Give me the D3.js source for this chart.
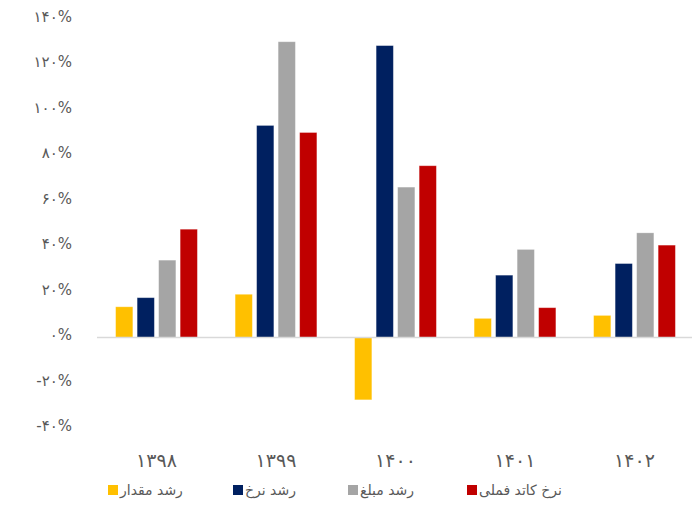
<!DOCTYPE html>
<html>
<head>
<meta charset="utf-8">
<script src="https://cdn.jsdelivr.net/npm/d3@7"></script>
<style>
  html, body { margin: 0; padding: 0; background: #fff; }
  svg { display: block; }
  text { font-family: "DejaVu Sans", "Noto Sans", sans-serif; }
</style>
</head>
<body>
<svg id="chart" width="692" height="505"></svg>
<script>
const categories = ['۱۳۹۸', '۱۳۹۹', '۱۴۰۰', '۱۴۰۱', '۱۴۰۲'];
const seriesNames = ['رشد مقدار', 'رشد نرخ', 'رشد مبلغ', 'نرخ کاتد فملی'];
const quantityGrowth = [13.5, 19.0, -27.4, 8.4, 9.7];
const rateGrowth = [17.5, 93.2, 128.3, 27.4, 32.5];
const amountGrowth = [34.0, 130.0, 66.1, 38.7, 46.0];
const cathodeRate = [47.6, 90.1, 75.5, 13.1, 40.6];
const yTicks = [-40, -20, 0, 20, 40, 60, 80, 100, 120, 140];
const colors = ['#FFC000', '#002060', '#A5A5A5', '#C00000'];

const seriesValues = [quantityGrowth, rateGrowth, amountGrowth, cathodeRate];
const toFa = s => String(s).replace(/\d/g, d => '۰۱۲۳۴۵۶۷۸۹'[+d]);

const svg = d3.select('#chart');

const y = d3.scaleLinear().domain([-40, 140]).range([428.5, 19]);
const x0 = d3.scaleBand().domain(categories).range([96.75, 694.25])
  .paddingInner(0.316).paddingOuter(0.158);
const x1 = d3.scaleBand().domain(seriesNames).range([0, x0.bandwidth()])
  .paddingInner(0.2).paddingOuter(0);

// y axis labels
const yAxis = d3.axisLeft(y).tickValues(yTicks).tickSize(0).tickPadding(0)
  .tickFormat(v => (v < 0 ? '-' : '') + toFa(Math.abs(v)) + '%');
const yg = svg.append('g').attr('transform', 'translate(72,-2.5)').call(yAxis);
yg.select('.domain').remove();
yg.selectAll('text').attr('font-size', 15).attr('fill', '#595959')
  .attr('font-family', '"DejaVu Sans", sans-serif');

// bars
const groups = svg.append('g').selectAll('g').data(categories).join('g')
  .attr('transform', d => `translate(${x0(d)},0)`);
groups.selectAll('rect')
  .data((c, i) => seriesNames.map((s, j) => ({ s, j, v: seriesValues[j][i] })))
  .join('rect')
  .attr('x', d => x1(d.s))
  .attr('width', x1.bandwidth())
  .attr('y', d => y(Math.max(0, d.v)))
  .attr('height', d => Math.abs(y(d.v) - y(0)))
  .attr('fill', d => colors[d.j])
  .attr('stroke', '#ffffff').attr('stroke-opacity', 0.35).attr('stroke-width', 0.8);

// zero line
svg.append('line').attr('x1', 97).attr('x2', 692)
  .attr('y1', y(0)).attr('y2', y(0))
  .attr('stroke', '#d9d9d9').attr('stroke-width', 1.5);

// x axis labels
const xAxis = d3.axisBottom(x0).tickSize(0).tickPadding(0);
const xg = svg.append('g').attr('transform', 'translate(0,460)').call(xAxis);
xg.select('.domain').remove();
xg.selectAll('text').attr('font-size', 19).attr('fill', '#595959')
  .attr('dy', '0.35em').attr('font-family', '"DejaVu Sans", sans-serif');

// legend
const legendX = [108, 233, 348, 467];
const lg = svg.append('g').selectAll('g').data(seriesNames).join('g')
  .attr('transform', (d, i) => `translate(${legendX[i]},490)`);
lg.append('rect').attr('x', 0).attr('y', -5).attr('width', 10).attr('height', 10)
  .attr('fill', (d, i) => colors[i]);
lg.append('text').attr('x', 12).attr('y', 0).attr('dy', '0.35em')
  .attr('font-size', 14).attr('fill', '#595959').text(d => d);
</script>
</body>
</html>
